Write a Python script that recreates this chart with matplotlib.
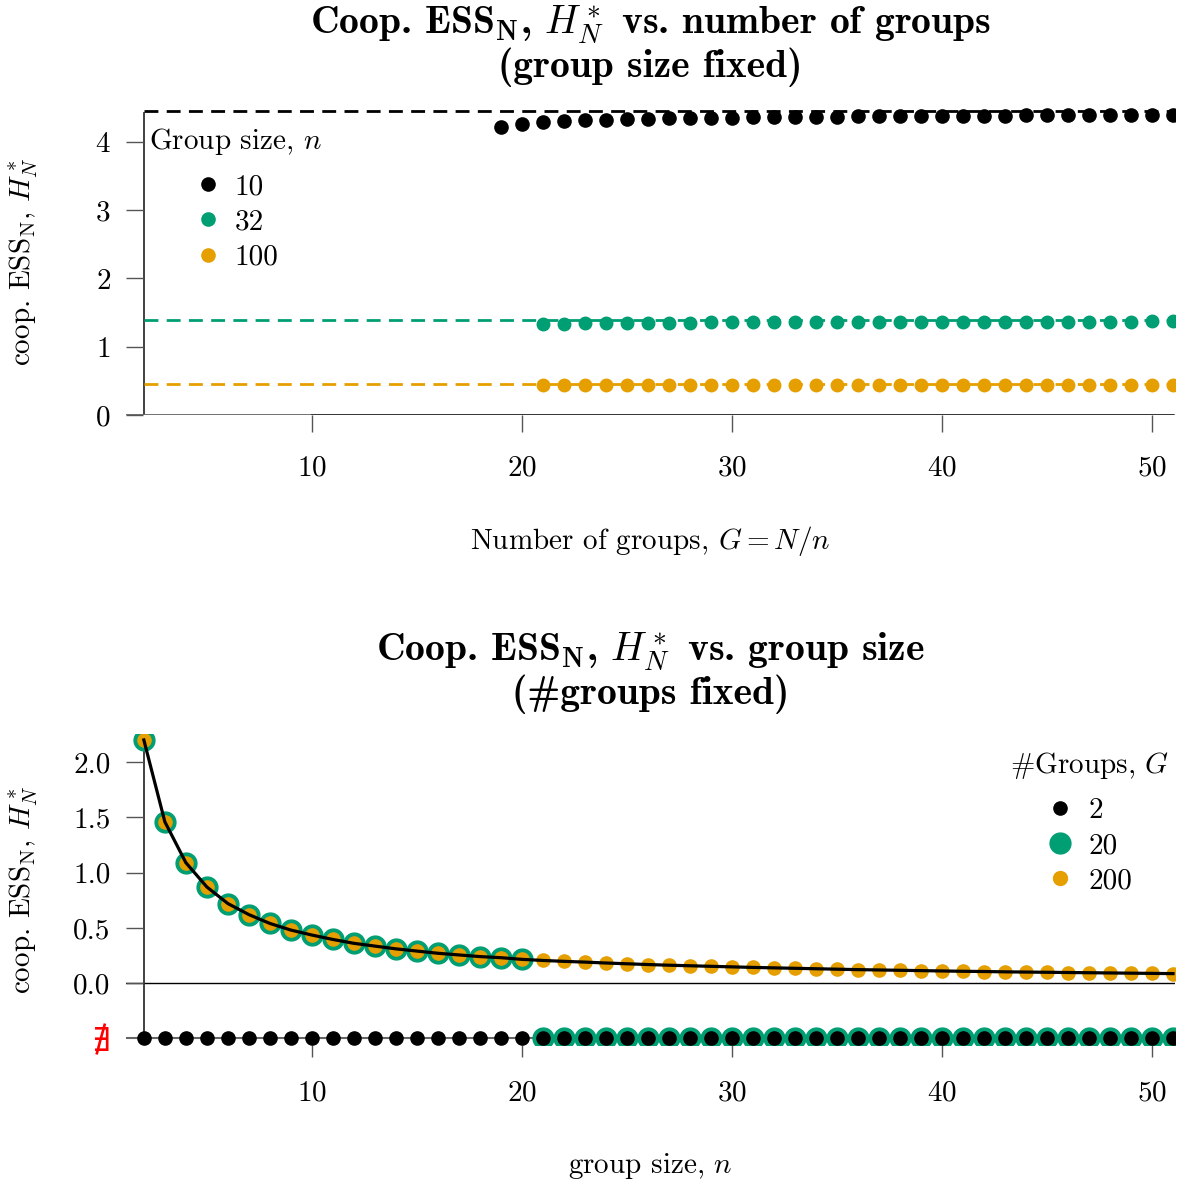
import numpy as np
import matplotlib
matplotlib.use("Agg")
import matplotlib.pyplot as plt
from matplotlib.lines import Line2D

plt.rcParams['font.family'] = 'serif'
plt.rcParams['font.serif'] = ['cmr10']
plt.rcParams['mathtext.fontset'] = 'cm'
plt.rcParams['axes.formatter.use_mathtext'] = True

BLACK = "#000000"
GREEN = "#009E73"
ORANGE = "#E69F00"

# ---- top panel: H_N* vs number of groups G (n fixed) ----
groups_n10 = list(range(19, 52))
h_n10 = [4.22, 4.265, 4.29, 4.305, 4.315, 4.325, 4.332, 4.338, 4.343, 4.348,
         4.352, 4.356, 4.359, 4.362, 4.365, 4.367, 4.37, 4.372, 4.374, 4.376,
         4.378, 4.38, 4.382, 4.384, 4.386, 4.388, 4.39, 4.392, 4.393, 4.395,
         4.397, 4.398, 4.40]
groups_n32 = list(range(21, 52))
h_n32 = [1.335, 1.340, 1.343, 1.346, 1.348, 1.350, 1.352, 1.354, 1.355, 1.356,
         1.357, 1.358, 1.359, 1.360, 1.361, 1.362, 1.363, 1.363, 1.364, 1.365,
         1.365, 1.366, 1.366, 1.367, 1.367, 1.368, 1.368, 1.369, 1.369, 1.370,
         1.370]
groups_n100 = list(range(21, 52))
h_n100 = [0.435, 0.437, 0.438, 0.439, 0.440, 0.440, 0.441, 0.441, 0.442, 0.442,
          0.442, 0.443, 0.443, 0.443, 0.443, 0.444, 0.444, 0.444, 0.444, 0.444,
          0.445, 0.445, 0.445, 0.445, 0.445, 0.445, 0.446, 0.446, 0.446, 0.446,
          0.446]
limits = {"10": 4.45, "32": 1.387, "100": 0.448}
group_sizes = ["10", "32", "100"]

# ---- bottom panel: H_N* vs group size n (G fixed) ----
sizes = list(range(2, 52))
h_G200 = [2.20, 1.46, 1.09, 0.87, 0.72, 0.62, 0.54, 0.48, 0.435, 0.395,
          0.36, 0.335, 0.31, 0.29, 0.27, 0.255, 0.24, 0.23, 0.215, 0.205,
          0.197, 0.19, 0.182, 0.175, 0.168, 0.162, 0.157, 0.152, 0.147, 0.142,
          0.138, 0.134, 0.13, 0.126, 0.122, 0.119, 0.116, 0.113, 0.11, 0.107,
          0.105, 0.102, 0.10, 0.098, 0.096, 0.094, 0.092, 0.09, 0.088, 0.086]
sizes_G20 = list(range(2, 21))
h_G20 = h_G200[:19]
sizes_G20_none = list(range(21, 52))
none_level = -0.5  # "does not exist"
num_groups = ["2", "20", "200"]

fig = plt.figure(figsize=(11.93, 11.80), dpi=100)

xlim = (1.15, 51.1)
axis_col = "#333333"
FS = 21
TFS = 28.5

# ================= top =================
ax1 = fig.add_axes([0.1056, 0.6483, 0.8794, 0.2604])
ax1.set_xlim(*xlim)
ax1.set_ylim(0, 4.5)
for s in ax1.spines.values():
    s.set_visible(False)

for key, col in zip(group_sizes, [BLACK, GREEN, ORANGE]):
    ax1.plot([2, 51], [limits[key]] * 2, color=col, lw=2, ls=(0, (5, 3)), zorder=3)

ax1.plot(groups_n10, h_n10, "o", color=BLACK, ms=9.5, zorder=2)
ax1.plot(groups_n32, h_n32, "o", color=GREEN, ms=9, zorder=2)
ax1.plot(groups_n100, h_n100, "o", color=ORANGE, ms=9, zorder=2)

ax1.plot([2, 2], [0, 4.42], color=axis_col, lw=1.3, zorder=1)
ax1.axhline(0, color="#666666", lw=1.3, zorder=1)
ax1.plot([10, 51], [0, 0], color=axis_col, lw=1.3, zorder=1)

ax1.set_xticks([10, 20, 30, 40, 50])
ax1.set_yticks([0, 1, 2, 3, 4])
ax1.tick_params(axis="y", direction="in", length=12.2, width=1, color="#555555",
                pad=11, labelsize=FS)
ax1.tick_params(axis="x", direction="out", length=12.2, width=1, color="#555555",
                pad=17, labelsize=FS)
ax1.set_xlabel(r"Number of groups, $G = N/n$", fontsize=FS, labelpad=30)
ax1.set_ylabel(r"coop. ESS$_\mathrm{N}$, $H_N^*$", fontsize=FS)
ax1.yaxis.set_label_coords(-0.082, 0.5)
ax1.set_title("Coop. ESS$_\\mathbf{N}$, $H_N^*$ vs. number of groups\n(group size fixed)",
              fontsize=TFS, family="cmb10", pad=22, linespacing=1.05)

h1 = [Line2D([], [], ls="", marker="o", color=c, ms=9.5) for c in [BLACK, GREEN, ORANGE]]
leg1 = ax1.legend(h1, group_sizes, title=r"Group size, $n$", loc="upper left",
                  bbox_to_anchor=(0.0, 1.015), frameon=False, fontsize=FS,
                  title_fontsize=FS, handletextpad=0.4, handlelength=1.0,
                  labelspacing=0.3, borderpad=0.3)
leg1._legend_box.sep = 12

# ================= bottom =================
ax2 = fig.add_axes([0.1056, 0.1144, 0.8794, 0.2632])
ax2.set_xlim(*xlim)
ax2.set_ylim(-0.56, 2.25)
for s in ax2.spines.values():
    s.set_visible(False)

ax2.axhline(0, color=BLACK, lw=1, zorder=1)
ax2.axhline(none_level, color="#666666", lw=1.5, zorder=1)
ax2.plot([2, 2], [none_level, 2.2], color=axis_col, lw=1.3, zorder=1)

ax2.plot(sizes_G20, h_G20, "o", color=GREEN, ms=15, zorder=2)
ax2.plot(sizes_G20_none, [none_level] * len(sizes_G20_none), "o", color=GREEN, ms=15, zorder=2)
ax2.plot(sizes, h_G200, "o", color=ORANGE, ms=9.5, zorder=3)
ax2.plot(sizes, [none_level] * len(sizes), "o", color=BLACK, ms=9.5, zorder=3)
ax2.plot(sizes, h_G200, "-", color=BLACK, lw=2.3, zorder=4)

ax2.set_xticks([10, 20, 30, 40, 50])
ax2.set_yticks([none_level, 0, 0.5, 1.0, 1.5, 2.0])
ax2.set_yticklabels(["\u2204", "0.0", "0.5", "1.0", "1.5", "2.0"])
ax2.tick_params(axis="y", direction="in", length=12.2, width=1, color="#555555",
                pad=11, labelsize=FS)
nx = ax2.get_yticklabels()[0]
nx.set_color("red")
nx.set_family("DejaVu Serif")
nx.set_fontsize(24)
ax2.yaxis.get_major_ticks()[0].tick1line.set_visible(False)
ax2.tick_params(axis="x", direction="out", length=8.6, width=1, color="#555555",
                pad=17, labelsize=FS)
ax2.set_xlabel(r"group size, $n$", fontsize=FS, labelpad=32)
ax2.set_ylabel(r"coop. ESS$_\mathrm{N}$, $H_N^*$", fontsize=FS)
ax2.yaxis.set_label_coords(-0.082, 0.5)
ax2.set_title("Coop. ESS$_\\mathbf{N}$, $H_N^*$ vs. group size\n(#groups fixed)",
              fontsize=TFS, family="cmb10", pad=22, linespacing=1.05)

h2 = [Line2D([], [], ls="", marker="o", color=BLACK, ms=9.5),
      Line2D([], [], ls="", marker="o", color=GREEN, ms=15),
      Line2D([], [], ls="", marker="o", color=ORANGE, ms=10)]
leg2 = ax2.legend(h2, num_groups, title=r"#Groups, $G$", loc="upper right",
                  bbox_to_anchor=(1.016, 1.025), frameon=False, fontsize=FS,
                  title_fontsize=FS, handletextpad=0.5, handlelength=1.0,
                  labelspacing=0.3, borderpad=0.3)
leg2._legend_box.sep = 12

fig.savefig("out.png", dpi=100)
